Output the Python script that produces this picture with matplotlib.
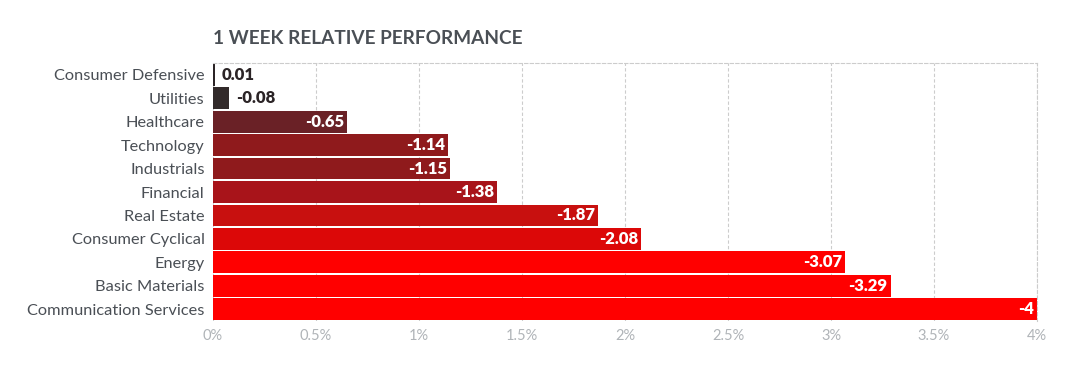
import matplotlib
matplotlib.use("Agg")
import matplotlib.pyplot as plt
from matplotlib.ticker import FuncFormatter

categories = ["Consumer Defensive", "Utilities", "Healthcare", "Technology", "Industrials",
              "Financial", "Real Estate", "Consumer Cyclical", "Energy", "Basic Materials",
              "Communication Services"]
values = [0.01, -0.08, -0.65, -1.14, -1.15, -1.38, -1.87, -2.08, -3.07, -3.29, -4]
labels = ["0.01", "-0.08", "-0.65", "-1.14", "-1.15", "-1.38", "-1.87", "-2.08", "-3.07", "-3.29", "-4"]
colors = ["#2b2426", "#322a2a", "#6a2126", "#8f1a1c", "#8f1a1c", "#a8141a", "#c8100f",
          "#dc0808", "#ff0000", "#ff0000", "#ff0000"]
xticks = [0, 0.5, 1, 1.5, 2, 2.5, 3, 3.5, 4]

plt.rcParams['font.family'] = ['Lato', 'DejaVu Sans']

fig = plt.figure(figsize=(10.81, 3.72), dpi=100)
ax = fig.add_axes([213/1081, 1-321/372, (1037-213)/1081, (321-63)/372])

n = len(categories)
ypos = list(range(n))
widths = [abs(v) for v in values]
ax.barh(ypos, widths, height=0.93, color=colors, zorder=2)
ax.set_ylim(n - 0.5, -0.5)
ax.set_xlim(0, 4)
ax.set_yticks(ypos)
ax.set_yticklabels(categories, fontsize=11.8, color="#4a4f55")
ax.set_xticks(xticks)
ax.xaxis.set_major_formatter(FuncFormatter(lambda x, p: f"{x:g}%"))
ax.tick_params(axis='x', colors="#b0b4b8", labelsize=10.5, length=0, pad=6)
ax.tick_params(axis='y', length=0, pad=6)
ax.grid(axis='x', color="#cccccc", linestyle=(0, (3, 2)), linewidth=0.8, zorder=0)
for s in ["left", "bottom"]:
    ax.spines[s].set_visible(False)
for s in ["top", "right"]:
    ax.spines[s].set_color("#cccccc")
    ax.spines[s].set_linestyle((0, (3, 2)))
    ax.spines[s].set_linewidth(0.8)

for y, w, lab in zip(ypos, widths, labels):
    if w > 0.3:
        ax.text(w - 0.015, y, lab, ha='right', va='center', color='white',
                fontsize=12, fontweight='heavy', zorder=3)
    else:
        ax.text(w + 0.03, y, lab, ha='left', va='center', color='#2b2426',
                fontsize=12, fontweight='heavy', zorder=3)

fig.text(213/1081, 1-38/372, "1 WEEK RELATIVE PERFORMANCE", fontsize=13.7, fontweight='bold',
         color="#4a4f55", ha='left', va='center')

fig.savefig("out.png", dpi=100, facecolor="white")
